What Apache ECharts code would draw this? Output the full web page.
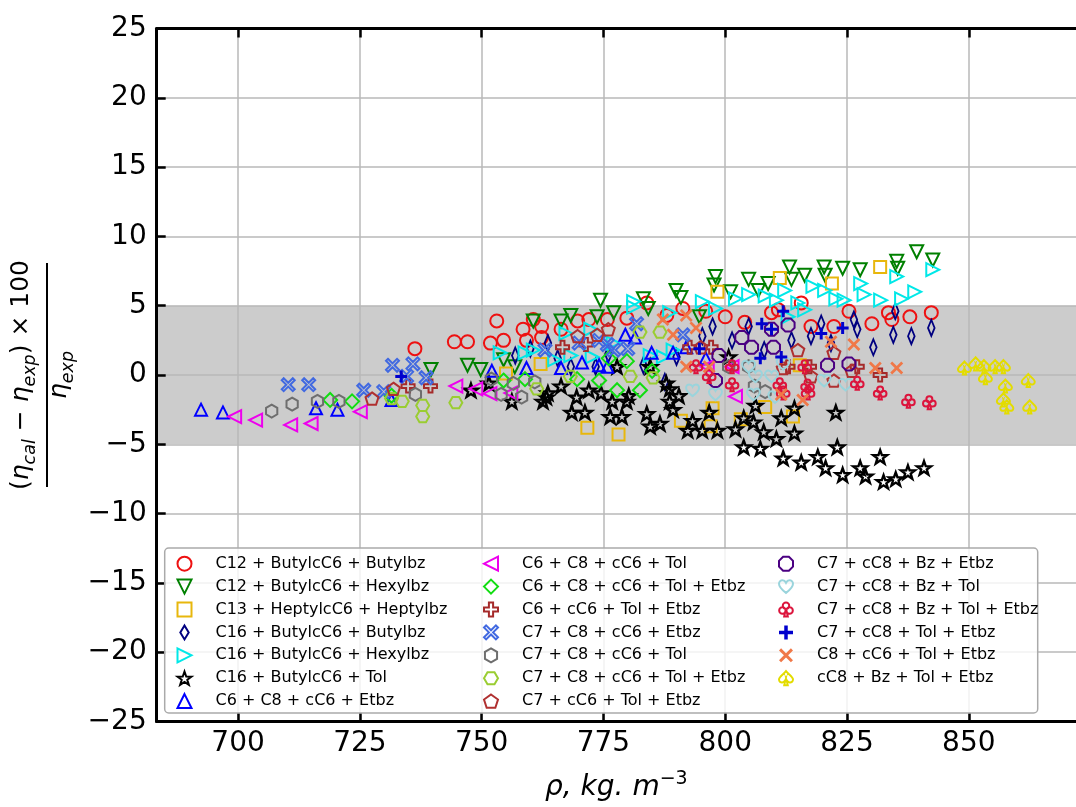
<!DOCTYPE html>
<html><head><meta charset="utf-8">
<script src="https://cdn.jsdelivr.net/npm/echarts@6/dist/echarts.min.js"></script>
<style>html,body{margin:0;padding:0;background:#fff}#c{width:1076px;height:807px}</style>
</head><body><div id="c"></div>
<script>
// ---------------- data ----------------
const seriesNames = [
  'C12 + ButylcC6 + Butylbz', 'C12 + ButylcC6 + Hexylbz', 'C13 + HeptylcC6 + Heptylbz',
  'C16 + ButylcC6 + Butylbz', 'C16 + ButylcC6 + Hexylbz', 'C16 + ButylcC6 + Tol',
  'C6 + C8 + cC6 + Etbz', 'C6 + C8 + cC6 + Tol', 'C6 + C8 + cC6 + Tol + Etbz',
  'C6 + cC6 + Tol + Etbz', 'C7 + C8 + cC6 + Etbz', 'C7 + C8 + cC6 + Tol',
  'C7 + C8 + cC6 + Tol + Etbz', 'C7 + cC6 + Tol + Etbz', 'C7 + cC8 + Bz + Etbz',
  'C7 + cC8 + Bz + Tol', 'C7 + cC8 + Bz + Tol + Etbz', 'C7 + cC8 + Tol + Etbz',
  'C8 + cC6 + Tol + Etbz', 'cC8 + Bz + Tol + Etbz'
];
const xTickValues = [700, 725, 750, 775, 800, 825, 850];
const bandRange = [-5, 5];

const c12ButylcC6Butylbz = [[736.3,1.9],[744.4,2.4],[747.1,2.4],[751.8,2.3],[753.1,3.9],[754.5,2.5],[758.5,3.3],[759.2,2.5],[760.6,4.0],[762.3,3.5],[762.3,2.7],[766.3,3.3],[769.7,3.9],[772.0,4.0],[775.8,4.0],[779.8,4.1],[783.9,5.2],[788.0,4.3],[791.3,4.8],[796.0,4.6],[800.0,4.2],[804.0,3.8],[809.5,4.5],[810.9,4.7],[815.6,5.2],[817.6,3.5],[822.3,3.5],[825.4,4.6],[830.1,3.7],[833.5,4.5],[834.2,4.0],[837.9,4.2],[842.3,4.5]];
const c12ButylcC6Hexylbz = [[739.6,0.4],[747.1,0.7],[749.8,0.4],[754.5,1.1],[756.8,0.6],[760.6,3.9],[766.3,3.9],[768.3,4.3],[773.7,4.2],[774.4,5.4],[777.1,4.5],[783.2,5.5],[784.2,4.8],[789.9,6.1],[790.9,5.6],[794.7,4.2],[797.7,6.5],[798.0,7.1],[801.1,6.0],[804.8,6.9],[806.8,6.1],[808.8,6.6],[813.2,7.8],[813.6,6.9],[816.3,7.2],[820.3,7.8],[820.5,7.2],[824.1,7.7],[827.7,7.6],[835.2,8.2],[835.4,7.7],[839.3,8.9],[842.6,8.3]];
const c13HeptylcC6Heptylbz = [[755.0,0.1],[762.1,0.8],[771.7,-3.8],[778.1,-4.3],[790.9,-3.3],[797.0,-3.7],[797.4,-2.4],[798.4,6.0],[803.2,-3.2],[808.2,-2.3],[811.2,7.0],[813.9,-3.0],[815.3,0.7],[821.9,6.6],[831.8,7.8]];
const c16ButylcC6Butylbz = [[756.9,1.4],[760.0,1.9],[763.6,2.3],[765.6,1.2],[768.3,0.6],[773.4,0.6],[776.0,1.5],[783.2,0.7],[787.6,-0.5],[790.0,1.3],[795.3,2.8],[797.4,3.5],[801.4,2.5],[804.8,3.5],[808.0,1.8],[813.6,2.5],[817.6,2.8],[819.7,3.7],[821.7,2.3],[826.4,4.0],[827.1,3.3],[830.4,2.0],[834.5,2.9],[834.9,4.6],[838.2,2.8],[842.3,3.4]];
const c16ButylcC6Hexylbz = [[753.8,1.6],[758.9,1.6],[760.6,1.8],[765.0,1.1],[767.3,3.0],[768.3,1.4],[772.4,3.3],[772.7,1.3],[777.0,2.3],[781.2,5.3],[781.2,4.9],[784.6,1.4],[787.3,1.3],[788.6,4.5],[789.3,1.8],[795.3,5.3],[798.0,4.8],[802.1,5.5],[804.8,5.8],[808.2,5.7],[810.5,5.4],[812.2,6.1],[812.9,4.2],[814.9,5.2],[816.3,4.7],[818.0,6.4],[820.4,6.1],[822.7,5.5],[824.4,5.4],[827.8,6.6],[828.5,5.8],[831.9,5.4],[835.2,7.1],[836.2,5.5],[838.9,6.0],[842.6,7.6]];
const c16ButylcC6Tol = [[747.8,-1.1],[751.5,-0.6],[756.2,-1.9],[762.6,-1.9],[763.3,-1.6],[763.6,-1.3],[766.3,-0.8],[768.5,-2.7],[769.5,-1.6],[771.2,-2.7],[772.0,-1.1],[774.5,-1.3],[776.4,-3.0],[776.8,-1.9],[777.8,0.6],[778.8,-3.0],[779.8,-1.9],[780.2,-1.5],[783.9,-2.8],[784.6,-3.7],[784.6,0.6],[786.6,-3.5],[787.9,-0.6],[788.6,-1.9],[788.6,-1.0],[789.3,-2.5],[790.5,-1.5],[792.3,-4.0],[793.3,-3.3],[795.3,-4.0],[796.7,-2.7],[798.4,-4.0],[800.7,1.3],[802.1,-3.9],[803.8,-3.1],[803.8,-5.2],[805.8,-3.4],[806.2,-2.2],[807.2,-5.3],[807.9,-4.1],[810.5,-4.6],[811.5,-3.1],[811.9,-6.0],[814.2,-4.2],[814.2,-2.4],[815.6,-6.3],[819.0,-5.9],[820.6,-6.7],[822.7,-2.7],[823.0,-5.2],[824.1,-7.2],[827.7,-6.7],[828.8,-7.3],[831.8,-5.9],[832.5,-7.7],[835.0,-7.5],[837.5,-7.0],[840.8,-6.7]];
const c6C8cC6Etbz = [[692.4,-2.5],[696.9,-2.7],[716.0,-2.4],[720.4,-2.5],[731.5,-1.8],[752.1,0.3],[759.2,0.5],[766.3,0.5],[770.6,0.9],[774.1,0.7],[775.8,0.6],[779.5,2.9],[781.5,2.7],[784.9,1.6],[789.3,1.6],[792.0,2.0],[796.0,1.2]];
const c6C8cC6Tol = [[699.3,-3.0],[703.6,-3.25],[710.8,-3.6],[715.0,-3.5],[725.1,-2.65],[744.7,-0.8],[748.8,-1.0],[751.7,-1.35],[756.0,-1.3],[796.3,0.6],[801.4,0.6],[802.1,-1.55]];
const c6C8cC6TolEtbz = [[718.9,-1.8],[723.4,-1.9],[731.5,-1.5],[754.5,-0.4],[758.9,-0.3],[769.6,-0.3],[774.1,-0.4],[776.1,1.2],[777.8,-1.1],[779.8,1.0],[782.5,-1.1],[785.0,0.3]];
const c6cC6TolEtbz = [[734.9,-0.8],[739.5,-0.8],[766.6,2.0],[771.4,2.2],[792.7,2.0],[797.1,2.0],[812.9,0.6],[817.3,0.6],[827.1,0.6],[831.8,0.0]];
const c7C8cC6Etbz = [[710.3,-0.7],[714.5,-0.7],[725.8,-1.1],[729.9,-1.2],[731.7,0.7],[734.6,-0.1],[735.9,0.8],[738.6,-0.2],[763.0,1.8],[770.0,2.3],[774.1,2.5],[775.8,2.2],[777.1,1.8],[780.0,1.9],[781.8,3.7],[791.3,2.9]];
const c7C8cC6Tol = [[706.9,-2.6],[711.1,-2.1],[716.3,-1.9],[720.7,-1.9],[736.4,-1.4],[752.0,-0.3],[754.0,-1.4],[756.5,-0.6],[758.2,-1.6],[760.9,-0.5],[800.7,0.6],[804.8,0.6],[806.0,-0.8],[808.2,-1.2]];
const c7C8cC6TolEtbz = [[731.5,-1.7],[733.7,-1.9],[737.9,-2.2],[737.9,-3.0],[744.7,-2.0],[761.3,-1.0],[768.2,-0.1],[780.5,-0.1],[782.5,3.1],[785.2,-0.2],[786.6,3.1]];
const c7cC6TolEtbz = [[727.5,-1.7],[731.9,-1.0],[769.7,2.8],[773.7,2.9],[776.0,3.3],[795.0,2.0],[811.9,0.5],[814.9,1.8],[817.6,-0.1],[822.3,1.6],[822.3,-0.4],[826.0,0.3]];
const c7cC8BzEtbz = [[798.0,-0.4],[798.7,1.4],[803.4,2.7],[805.4,2.0],[809.5,3.3],[809.9,2.0],[812.9,3.6],[821.0,0.7],[825.4,0.8]];
const c7cC8BzTol = [[793.3,-1.1],[798.0,-1.4],[804.8,0.6],[805.8,-1.4],[806.2,-0.1],[809.5,-0.1],[810.2,-1.6],[811.9,0.8],[820.3,-0.4],[824.7,-0.7]];
const c7cC8BzTolEtbz = [[794.0,0.6],[796.7,-0.1],[801.4,0.6],[801.4,-0.7],[811.2,-0.7],[811.9,-1.3],[816.3,0.6],[816.9,-0.8],[817.0,-1.3],[827.1,-0.6],[831.8,-1.3],[837.6,-1.9],[841.9,-2.0]];
const c7cC8TolEtbz = [[733.5,-0.1],[794.7,1.9],[807.2,1.2],[807.5,3.7],[809.5,3.3],[811.5,1.3],[811.9,4.6],[819.7,3.0],[824.1,3.4]];
const c8cC6TolEtbz = [[787.2,4.0],[789.3,2.9],[792.0,4.3],[794.0,3.4],[792.0,0.6],[796.7,0.6],[811.5,-1.4],[815.9,-1.8],[821.7,2.4],[826.4,2.2],[830.8,0.5],[835.2,0.5]];
const cC8BzTolEtbz = [[849.1,0.5],[851.4,0.8],[853.1,0.6],[853.4,-0.2],[855.4,0.6],[857.1,0.6],[857.5,-0.8],[857.1,-1.8],[857.8,-2.3],[862.2,-0.4],[862.5,-2.3]];

const seriesData = [c12ButylcC6Butylbz, c12ButylcC6Hexylbz, c13HeptylcC6Heptylbz, c16ButylcC6Butylbz,
  c16ButylcC6Hexylbz, c16ButylcC6Tol, c6C8cC6Etbz, c6C8cC6Tol, c6C8cC6TolEtbz, c6cC6TolEtbz,
  c7C8cC6Etbz, c7C8cC6Tol, c7C8cC6TolEtbz, c7cC6TolEtbz, c7cC8BzEtbz, c7cC8BzTol,
  c7cC8BzTolEtbz, c7cC8TolEtbz, c8cC6TolEtbz, cC8BzTolEtbz];

// ---------------- styles ----------------
const P = {
  circle: 'circle',
  square: 'path://M0,0 L20,0 L20,20 L0,20 Z',
  up: 'path://M10,0 L20,20 L0,20 Z',
  down: 'path://M0,0 L20,0 L10,20 Z',
  right: 'path://M0,0 L20,10 L0,20 Z',
  left: 'path://M20,0 L0,10 L20,20 Z',
  diamond: 'path://M10,0 L20,10 L10,20 L0,10 Z',
  thinDiamond: 'path://M6,0 L12,10 L6,20 L0,10 Z',
  star: 'path://M10,0 L12.35,6.76 L19.51,6.91 L13.8,11.24 L15.88,18.09 L10,14 L4.12,18.09 L6.2,11.24 L0.49,6.91 L7.65,6.76 Z',
  plusP: 'path://M7,0 L13,0 L13,7 L20,7 L20,13 L13,13 L13,20 L7,20 L7,13 L0,13 L0,7 L7,7 Z',
  xX: 'path://M3,0 L10,7 L17,0 L20,3 L13,10 L20,17 L17,20 L10,13 L3,20 L0,17 L7,10 L0,3 Z',
  hexPointy: 'path://M10,0 L18.66,5 L18.66,15 L10,20 L1.34,15 L1.34,5 Z',
  hexFlat: 'path://M0,10 L5,1.34 L15,1.34 L20,10 L15,18.66 L5,18.66 Z',
  pentagon: 'path://M10,0 L19.51,6.91 L15.88,18.09 L4.12,18.09 L0.49,6.91 Z',
  octagon: 'path://M19.24,13.83 L13.83,19.24 L6.17,19.24 L0.76,13.83 L0.76,6.17 L6.17,0.76 L13.83,0.76 L19.24,6.17 Z',
  heart: 'path://M10,18 C2,12 0,8 0,5 C0,2 2.5,0 5,0 C7,0 9,1.5 10,3.5 C11,1.5 13,0 15,0 C17.5,0 20,2 20,5 C20,8 18,12 10,18 Z',
  club: 'path://M5.5,5 A4.5,4.5 0 1,1 14.5,5 A4.5,4.5 0 1,1 5.5,5 Z M0.5,11.5 A4.5,4.5 0 1,1 9.5,11.5 A4.5,4.5 0 1,1 0.5,11.5 Z M10.5,11.5 A4.5,4.5 0 1,1 19.5,11.5 A4.5,4.5 0 1,1 10.5,11.5 Z M9,13 L11,13 L12.5,20 L7.5,20 Z',
  plus: 'path://M7.5,0 L12.5,0 L12.5,7.5 L20,7.5 L20,12.5 L12.5,12.5 L12.5,20 L7.5,20 L7.5,12.5 L0,12.5 L0,7.5 L7.5,7.5 Z',
  spade: 'path://M10,0 C13,4 20,8 20,12 C20,15 17.5,16.5 15,16 C13,15.5 11.5,14 11,13 L12.5,20 L7.5,20 L9,13 C8.5,14 7,15.5 5,16 C2.5,16.5 0,15 0,12 C0,8 7,4 10,0 Z'
};
const markerStyles = [
  {color: '#ee1111', symbol: P.circle, size: 13},
  {color: '#008000', symbol: P.down, size: 13},
  {color: '#e8b70c', symbol: P.square, size: 12},
  {color: '#000080', symbol: P.thinDiamond, size: [11, 16]},
  {color: '#00e8e8', symbol: P.right, size: 13},
  {color: '#000000', symbol: P.star, size: 14, bw: 2.4},
  {color: '#0000ff', symbol: P.up, size: 12},
  {color: '#ee00ee', symbol: P.left, size: 13},
  {color: '#11dd11', symbol: P.diamond, size: 14},
  {color: '#a52a2a', symbol: P.plusP, size: 13},
  {color: '#4169e1', symbol: P.xX, size: 13},
  {color: '#6e6e6e', symbol: P.hexPointy, size: 13},
  {color: '#9acd32', symbol: P.hexFlat, size: 13},
  {color: '#b03030', symbol: P.pentagon, size: 13},
  {color: '#4b0082', symbol: P.octagon, size: 13},
  {color: '#9ad4dc', symbol: P.heart, size: 13},
  {color: '#dc143c', symbol: P.club, size: 13},
  {color: '#0000cd', symbol: P.plus, size: 12, filled: true},
  {color: '#f07848', symbol: P.xX, size: 13, filled: true},
  {color: '#e3dc00', symbol: P.spade, size: 13}
];

const FONT = 'DejaVu Sans';
const scatterSeries = seriesNames.map((name, i) => {
  const st = markerStyles[i];
  return {
    name, type: 'scatter', data: seriesData[i], z: 3,
    symbol: st.symbol, symbolSize: st.size, symbolKeepAspect: true,
    itemStyle: st.filled
      ? {color: st.color, borderWidth: 0, opacity: 1}
      : {color: 'rgba(255,255,255,0)', borderColor: st.color, borderWidth: st.bw || 2, opacity: 1},
    emphasis: {disabled: true}
  };
});

const bandSeries = {
  name: 'band', type: 'line', data: [], z: 1, silent: true,
  markArea: {
    silent: true, z: 1,
    itemStyle: {color: '#cccccc', opacity: 1},
    data: [[{yAxis: bandRange[0]}, {yAxis: bandRange[1]}]]
  }
};

const legendCols = [seriesNames.slice(0, 7), seriesNames.slice(7, 14), seriesNames.slice(14)];
const legendLefts = [176.5, 483, 778];
const legends = legendCols.map((names, k) => ({
  data: names, orient: 'vertical', left: legendLefts[k], top: 555.7, padding: 0,
  itemWidth: 14, itemHeight: 14, itemGap: 6.9, selectedMode: false, z: 20,
  textStyle: {fontFamily: FONT, fontSize: 16, color: '#000', lineHeight: 14, padding: [0, 0, 0, 19]}
}));

const axisCommon = {
  z: 2,
  axisLine: {show: true, onZero: false, lineStyle: {color: '#000', width: 3}},
  axisTick: {show: true, inside: true, length: 9, lineStyle: {color: '#000', width: 2.5}},
};

const minus = v => (v < 0 ? '\u2212' : '') + Math.abs(v);

const option = {
  animation: false,
  backgroundColor: '#fff',
  grid: {left: 156.7, top: 28.5, right: -12, bottom: 85.5, containLabel: false},
  xAxis: [{
    type: 'value', min: 683.3, max: 872, position: 'bottom', ...axisCommon,
    axisTick: {...axisCommon.axisTick, customValues: xTickValues},
    axisLabel: {customValues: xTickValues, fontFamily: FONT, fontSize: 28, color: '#000', margin: 8},
    splitLine: {show: true, lineStyle: {color: '#b8b8b8', width: 1.5}},
    name: '{a|ρ, kg. m}{b|\u22123}', nameLocation: 'middle', nameGap: 48,
    nameTextStyle: {rich: {
      a: {fontFamily: FONT, fontSize: 28, fontStyle: 'italic', color: '#000', lineHeight: 36},
      b: {fontFamily: FONT, fontSize: 19, color: '#000', lineHeight: 20, verticalAlign: 'top'}
    }}
  }, {
    type: 'value', min: 683.3, max: 872, position: 'top', ...axisCommon,
    axisTick: {...axisCommon.axisTick, customValues: xTickValues},
    axisLabel: {show: false}, splitLine: {show: false}
  }],
  yAxis: {
    type: 'value', min: -25, max: 25, interval: 5, ...axisCommon,
    axisLabel: {fontFamily: FONT, fontSize: 28, color: '#000', margin: 10, formatter: minus},
    splitLine: {show: true, lineStyle: {color: '#b8b8b8', width: 1.5}}
  },
  legend: legends,
  graphic: [
    {type: 'rect', z: 15, shape: {x: 164.7, y: 548, width: 873, height: 165, r: 4},
     style: {fill: 'rgba(255,255,255,0.8)', stroke: '#aaaaaa', lineWidth: 1.5}},
    {type: 'group', x: 47, y: 375, rotation: Math.PI / 2, z: 15, children: [
      {type: 'text', x: 0, y: -23, style: {
        text: '{p|(}{e|η}{s|cal}{p| − }{e|η}{s|exp}{p|) × 100}',
        align: 'center', verticalAlign: 'middle', fill: '#000',
        rich: {
          p: {fontFamily: FONT, fontSize: 25, lineHeight: 30, verticalAlign: 'top', fill: '#000'},
          e: {fontFamily: FONT, fontSize: 25, fontStyle: 'italic', lineHeight: 30, verticalAlign: 'top', fill: '#000'},
          s: {fontFamily: FONT, fontSize: 17.5, fontStyle: 'italic', lineHeight: 16, verticalAlign: 'bottom', fill: '#000'}
        }}},
      {type: 'line', shape: {x1: -112, y1: 0, x2: 112, y2: 0}, style: {stroke: '#000', lineWidth: 2}},
      {type: 'text', x: 0, y: 15, style: {
        text: '{e|η}{s|exp}', align: 'center', verticalAlign: 'middle', fill: '#000',
        rich: {
          e: {fontFamily: FONT, fontSize: 25, fontStyle: 'italic', lineHeight: 30, verticalAlign: 'top', fill: '#000'},
          s: {fontFamily: FONT, fontSize: 17.5, fontStyle: 'italic', lineHeight: 16, verticalAlign: 'bottom', fill: '#000'}
        }}}
    ]}
  ],
  series: [bandSeries, ...scatterSeries]
};

const chart = echarts.init(document.getElementById('c'), null, {renderer: 'canvas'});
chart.setOption(option);
</script>
</body></html>
